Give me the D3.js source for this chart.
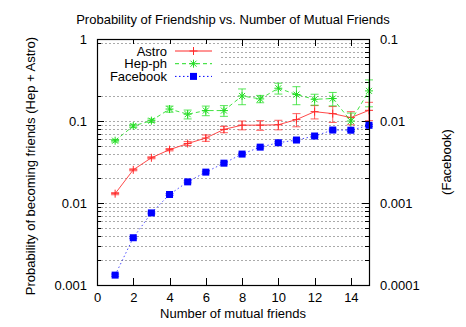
<!DOCTYPE html>
<html>
<head>
<meta charset="utf-8">
<script src="https://cdn.jsdelivr.net/npm/d3@7"></script>
<style>
  body { margin: 0; background: #fff; }
  text { font-family: "Liberation Sans", Arial, sans-serif; font-size: 13px; fill: #000; }
</style>
</head>
<body>
<svg id="chart" width="466" height="327"></svg>
<script>
// mutual friends 1..15
const mutual = [1, 2, 3, 4, 5, 6, 7, 8, 9, 10, 11, 12, 13, 14, 15];

// Astro (left axis)
const astro = [0.0130, 0.0254, 0.0356, 0.0447, 0.0531, 0.062, 0.079, 0.089, 0.089, 0.090, 0.104, 0.130, 0.123, 0.110, 0.135];
const astroErr = [0.0004, 0.0007, 0.001, 0.0015, 0.003, 0.0055, 0.007, 0.011, 0.012, 0.012, 0.019, 0.024, 0.027, 0.020, 0.034];

// Hep-ph (left axis)
const hep = [0.0575, 0.087, 0.101, 0.140, 0.121, 0.134, 0.134, 0.202, 0.186, 0.251, 0.210, 0.184, 0.188, 0.100, 0.233];
const hepErr = [0.002, 0.004, 0.005, 0.012, 0.015, 0.018, 0.020, 0.044, 0.019, 0.038, 0.052, 0.028, 0.035, 0.025, 0.084];

// Facebook (right axis)
const facebook = [0.000132, 0.000377, 0.000757, 0.00127, 0.00181, 0.00238, 0.00306, 0.00395, 0.0048, 0.00543, 0.00586, 0.00656, 0.00776, 0.00772, 0.00886];
const facebookErr = [0.000004, 0.00001, 0.00002, 0.00003, 0.00005, 0.00006, 0.00008, 0.0001, 0.00012, 0.00014, 0.00016, 0.00018, 0.0002, 0.0002, 0.00025];

const xTicks = [0, 2, 4, 6, 8, 10, 12, 14];
const yTicks = [0.001, 0.01, 0.1, 1];
const y2Ticks = [0.0001, 0.001, 0.01, 0.1];

const svg = d3.select('#chart');
const margin = {top: 39, right: 97, bottom: 42, left: 97};
const width = +svg.attr('width');
const height = +svg.attr('height');
const innerWidth = width - margin.left - margin.right;
const innerHeight = height - margin.top - margin.bottom;

const xScale = d3.scaleLinear().domain([0, 15]).range([0, innerWidth]);
const yScale = d3.scaleLog().domain([0.001, 1]).range([innerHeight, 0]);
const y2Scale = d3.scaleLog().domain([0.0001, 0.1]).range([innerHeight, 0]);

const g = svg.append('g').attr('transform', `translate(${margin.left},${margin.top})`);

// minor + major log values for grid and ticks
const logVals = [];
for (let e = -3; e < 0; e++) {
  for (let m = 1; m <= 9; m++) logVals.push(m * Math.pow(10, e));
}
logVals.push(1);

// horizontal dotted grid
g.append('g').attr('class', 'grid')
  .selectAll('line').data(logVals.filter(v => v > 0.001 && v < 1))
  .enter().append('line')
    .attr('x1', 0).attr('x2', innerWidth)
    .attr('y1', d => Math.round(yScale(d)) + 0.5)
    .attr('y2', d => Math.round(yScale(d)) + 0.5)
    .attr('stroke', '#aaa')
    .attr('stroke-width', 1)
    .attr('stroke-dasharray', '2,2');

// y ticks, left and right (inward)
const isMajor = v => yTicks.some(t => Math.abs(t - v) / t < 1e-6);
const tickG = g.append('g').attr('class', 'ticks').attr('stroke', '#000');
logVals.forEach(v => {
  const y = Math.round(yScale(v)) + 0.5;
  const len = isMajor(v) ? 7 : 4;
  tickG.append('line').attr('x1', 0).attr('x2', len).attr('y1', y).attr('y2', y);
  tickG.append('line').attr('x1', innerWidth).attr('x2', innerWidth - len).attr('y1', y).attr('y2', y);
});
xTicks.forEach(v => {
  const x = Math.round(xScale(v)) + 0.5;
  tickG.append('line').attr('x1', x).attr('x2', x).attr('y1', innerHeight).attr('y2', innerHeight - 7);
  tickG.append('line').attr('x1', x).attr('x2', x).attr('y1', 0).attr('y2', 7);
});

// axes labels via d3 axes (ticks hidden, only labels)
const xAxis = d3.axisBottom(xScale).tickValues(xTicks).tickSize(0).tickPadding(8);
const yAxis = d3.axisLeft(yScale).tickValues(yTicks).tickSize(0).tickPadding(10).tickFormat(d => String(+d.toPrecision(1)));
const y2Axis = d3.axisRight(y2Scale).tickValues(y2Ticks).tickSize(0).tickPadding(11).tickFormat(d => String(+d.toPrecision(1)));

const xAxisG = g.append('g').attr('transform', `translate(0,${innerHeight})`).call(xAxis);
const yAxisG = g.append('g').call(yAxis);
const y2AxisG = g.append('g').attr('transform', `translate(${innerWidth},0)`).call(y2Axis);
[xAxisG, yAxisG, y2AxisG].forEach(a => {
  a.select('.domain').remove();
  a.selectAll('text').style('font-family', '"Liberation Sans", Arial, sans-serif').style('font-size', '13px').attr('fill', '#000');
});

// legend background
const legendG = g.append('g').attr('class', 'legend');
legendG.append('rect')
  .attr('x', 1).attr('y', 5).attr('width', 122).attr('height', 42)
  .attr('fill', '#fff');

// series
const series = [
  {name: 'Astro', values: astro, errs: astroErr, scale: yScale, color: '#ff2a2a', dash: null, marker: 'plus'},
  {name: 'Hep-ph', values: hep, errs: hepErr, scale: yScale, color: '#22dd22', dash: '4,3', marker: 'star'},
  {name: 'Facebook', values: facebook, errs: facebookErr, scale: y2Scale, color: '#0000ff', dash: '1.5,2.5', marker: 'square'}
];

const markerPath = (type, s) => {
  if (type === 'plus') return `M${-s},0H${s}M0,${-s}V${s}`;
  if (type === 'star') return `M${-s},0H${s}M0,${-s}V${s}M${-s*0.75},${-s*0.75}L${s*0.75},${s*0.75}M${-s*0.75},${s*0.75}L${s*0.75},${-s*0.75}`;
  return '';
};

const drawMarker = (sel, s, x, y) => {
  if (s.marker === 'square') {
    sel.append('rect')
      .attr('x', x - 3.5).attr('y', y - 3.5).attr('width', 7).attr('height', 7)
      .attr('fill', s.color);
  } else {
    sel.append('path')
      .attr('transform', `translate(${x},${y})`)
      .attr('d', markerPath(s.marker, 4))
      .attr('stroke', s.color).attr('fill', 'none').attr('stroke-width', 1);
  }
};

const plotG = g.append('g').attr('class', 'plot');
series.forEach(s => {
  const line = d3.line()
    .x((d, i) => xScale(mutual[i]))
    .y(d => s.scale(d));
  plotG.append('path')
    .datum(s.values)
    .attr('fill', 'none')
    .attr('stroke', s.color)
    .attr('stroke-opacity', s.marker === 'square' ? 0.7 : 0.85)
    .attr('stroke-width', 1)
    .attr('stroke-dasharray', s.dash)
    .attr('d', line);

  const errG = plotG.append('g').attr('stroke', s.color).attr('stroke-width', 1).attr('stroke-opacity', 0.75);
  s.values.forEach((v, i) => {
    const x = xScale(mutual[i]);
    const yHi = s.scale(v + s.errs[i]);
    const yLo = s.scale(Math.max(v - s.errs[i], 1e-6));
    errG.append('line').attr('x1', x).attr('x2', x).attr('y1', yHi).attr('y2', yLo);
    errG.append('line').attr('x1', x - 4).attr('x2', x + 4).attr('y1', yHi).attr('y2', yHi);
    errG.append('line').attr('x1', x - 4).attr('x2', x + 4).attr('y1', yLo).attr('y2', yLo);
    drawMarker(plotG, s, x, s.scale(v));
  });
});

// legend entries
series.forEach((s, i) => {
  const y = 12 + i * 12.7;
  legendG.append('text')
    .attr('x', 70).attr('y', y)
    .attr('dy', '0.35em')
    .attr('text-anchor', 'end')
    .style('font-size', '13px')
    .text(s.name);
  legendG.append('line')
    .attr('x1', 78).attr('x2', 115).attr('y1', y).attr('y2', y)
    .attr('stroke', s.color)
    .attr('stroke-width', 1)
    .attr('stroke-dasharray', s.dash);
  drawMarker(legendG, s, 96.5, y);
});

// frame
g.append('rect')
  .attr('x', 0.5).attr('y', 0.5)
  .attr('width', innerWidth).attr('height', innerHeight)
  .attr('fill', 'none').attr('stroke', '#000').attr('stroke-width', 1.2);

// titles
svg.append('text')
  .attr('x', margin.left + innerWidth / 2).attr('y', 24)
  .attr('text-anchor', 'middle')
  .text('Probability of Friendship vs. Number of Mutual Friends');

svg.append('text')
  .attr('x', margin.left + innerWidth / 2).attr('y', height - 9)
  .attr('text-anchor', 'middle')
  .text('Number of mutual friends');

svg.append('text')
  .attr('transform', `translate(35,${margin.top + innerHeight / 2 + 4}) rotate(-90)`)
  .attr('text-anchor', 'middle')
  .text('Probability of becoming friends (Hep + Astro)');

svg.append('text')
  .attr('transform', `translate(451,${margin.top + innerHeight / 2}) rotate(-90)`)
  .attr('text-anchor', 'middle')
  .text('(Facebook)');
</script>
</body>
</html>
